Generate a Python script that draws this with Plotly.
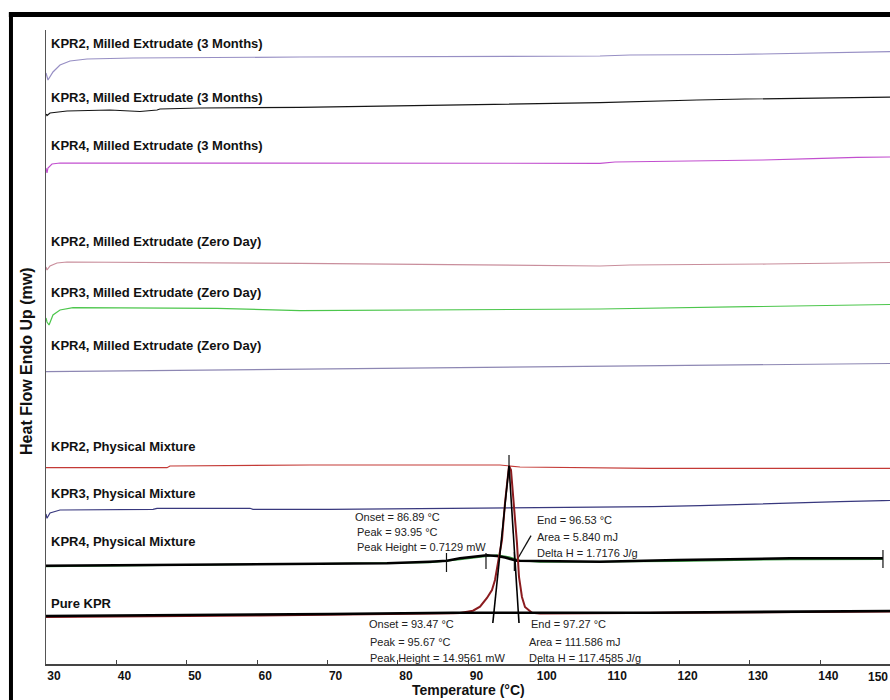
import plotly.graph_objects as go

# ---------------- data (temperature in °C, heat flow in stacked display units) ----------------
T_kpr2_3m = [30.00, 30.28, 30.99, 31.99, 33.41, 35.82, 42.36, 66.08, 108.69, 112.95, 127.59, 138.10, 147.05, 149.89]
HF_kpr2_3m = [591, 584, 592, 599, 603, 605, 606, 607, 608, 609, 609.5, 610.7, 611.7, 612.3]

T_kpr3_3m = [30.00, 30.14, 30.57, 31.56, 32.98, 39.09, 41.51, 43.35, 45.77, 46.19, 51.88, 66.08, 108.69, 116.08, 122.47, 129.29, 136.68, 143.21, 149.89]
HF_kpr3_3m = [550, 548.5, 551, 552, 553, 554, 553, 552.5, 554, 555, 556, 556.7, 561.3, 563, 564, 565, 565.7, 566.7, 566.9]

T_kpr4_3m = [30.00, 30.14, 30.28, 30.85, 31.99, 66.08, 108.69, 110.82, 123.89, 131.85, 138.95, 145.20, 149.89]
HF_kpr4_3m = [496, 491, 496, 500, 501, 500.7, 500.7, 502, 503, 504, 505.3, 506.7, 507]

T_kpr2_0d = [30.00, 30.14, 30.57, 31.56, 32.98, 66.08, 108.69, 112.95, 132.41, 143.07, 149.89]
HF_kpr2_0d = [397, 394, 398, 401, 402, 400.7, 398, 399, 400, 401, 401.5]

T_kpr3_0d = [30.00, 30.14, 30.43, 30.99, 31.99, 33.84, 54.29, 66.08, 108.69, 116.08, 127.59, 137.10, 144.49, 149.89]
HF_kpr3_0d = [346, 342, 339, 349, 354, 356.3, 355.7, 353.3, 355, 355.7, 356.7, 357.7, 359, 359.5]

T_kpr4_0d = [30.00, 66.08, 108.69, 125.03, 138.95, 149.89]
HF_kpr4_0d = [292.3, 294.7, 298, 299, 300, 300.5]

T_kpr2_pm = [30.00, 47.19, 47.61, 67.50, 94.49, 97.33, 115.80, 149.89]
HF_kpr2_pm = [196.3, 196.3, 198, 199, 199, 197, 195.7, 195.7]

T_kpr3_pm = [30.00, 30.14, 30.57, 31.99, 45.20, 45.77, 58.98, 59.40, 70.34, 108.69, 116.22, 122.90, 128.86, 134.26, 142.78, 148.89, 149.89]
HF_kpr3_pm = [150, 145.7, 151, 154, 154.7, 155.7, 155.7, 154.7, 154.7, 156.7, 157.3, 158.3, 159.7, 161, 162.3, 163.3, 163.5]

# KPR4 physical mixture: analysed curve (black) and raw curve (green)
T_kpr4_pm = [30.00, 41.51, 57.27, 70.34, 78.44, 84.55, 86.96, 88.81, 90.65, 92.64, 94.06, 95.20, 96.90, 108.69, 119.63, 130.00, 135.68, 148.89]
HF_kpr4_pm = [98.3, 99, 100, 100.7, 100.7, 102.3, 103.3, 105.7, 107.3, 108.7, 108, 106.5, 103.3, 102.3, 104, 104.7, 105.7, 105.7]
T_kpr4_pm_raw = [30.00, 41.51, 57.27, 70.34, 84.55, 88.81, 92.64, 94.06, 95.77, 97.33, 100.17, 119.63, 135.68, 148.89]
HF_kpr4_pm_raw = [97.5, 98.3, 99.2, 99.8, 101.5, 104.5, 108, 109, 107, 103.5, 102, 102.8, 104.5, 104.7]

# Pure KPR: baseline (black) and raw melting curve (dark red)
T_pure_base = [30.00, 60.40, 70.34, 87.81, 115.80, 149.89]
HF_pure_base = [48, 49, 50, 51.3, 51.3, 53]
T_pure_raw = [30.00, 60.40, 87.81, 88.81, 90.65, 91.65, 92.64, 93.35, 93.78, 94.20, 94.77, 95.20, 95.63, 95.77,
              96.05, 96.48, 96.90, 97.19, 97.61, 98.04, 99.03, 100.17, 149.89]
HF_pure_raw = [47, 48.5, 50.7, 51, 53.3, 57.3, 66, 74, 84, 101, 124, 161, 194, 198,
               194, 161, 121, 87, 67, 57, 51.3, 50.5, 52.5]

# thermal analysis results
pm4_onset, pm4_peak, pm4_height, pm4_end, pm4_area, pm4_dh = 86.89, 93.95, 0.7129, 96.53, 5.840, 1.7176
pure_onset, pure_peak, pure_height, pure_end, pure_area, pure_dh = 93.47, 95.67, 14.9561, 97.27, 111.586, 117.4585
pm4_mid_marker = 92.50
pm4_limit_marker = 148.89

x_ticks = [30, 40, 50, 60, 70, 80, 90, 100, 110, 120, 130, 140]

curve_labels = [
    "KPR2, Milled Extrudate (3 Months)", "KPR3, Milled Extrudate (3 Months)", "KPR4, Milled Extrudate (3 Months)",
    "KPR2, Milled Extrudate (Zero Day)", "KPR3, Milled Extrudate (Zero Day)", "KPR4, Milled Extrudate (Zero Day)",
    "KPR2, Physical Mixture", "KPR3, Physical Mixture", "KPR4, Physical Mixture", "Pure KPR",
]
label_levels = [621, 567, 519, 423, 372, 319, 218, 171, 123, 61]

# ---------------- figure ----------------
SANS = "Liberation Sans, Arial, sans-serif"

fig = go.Figure()

def line(x, y, color, width=1.2):
    fig.add_trace(go.Scatter(x=x, y=y, mode="lines", line=dict(color=color, width=width),
                             hoverinfo="skip", showlegend=False))

line(T_kpr2_3m, HF_kpr2_3m, "#978fc4")
line(T_kpr3_3m, HF_kpr3_3m, "#151515")
line(T_kpr4_3m, HF_kpr4_3m, "#c24fcf")
line(T_kpr2_0d, HF_kpr2_0d, "#c98e9c")
line(T_kpr3_0d, HF_kpr3_0d, "#4cc64c")
line(T_kpr4_0d, HF_kpr4_0d, "#8d87b3")
line(T_kpr2_pm, HF_kpr2_pm, "#c43a36")
line(T_kpr3_pm, HF_kpr3_pm, "#38387e")

# KPR4 physical mixture
line(T_kpr4_pm_raw, HF_kpr4_pm_raw, "#3d9b45", 1.4)
line(T_kpr4_pm, HF_kpr4_pm, "#000000", 2.6)
for xm, y0, y1 in [(pm4_onset, 92, 111), (pm4_mid_marker, 95, 111), (pm4_end, 93, 112), (pm4_limit_marker, 96, 114)]:
    line([xm, xm], [y0, y1], "#111111", 1.2)
line([96.90, 98.90], [104, 128.3], "#111111", 1.3)

# Pure KPR
line(T_pure_raw, HF_pure_raw, "#8b1c1f", 2.0)
line(T_pure_base, HF_pure_base, "#000000", 2.6)
line([pure_onset, 95.77], [41, 198], "#000000", 1.6)
line([pure_end - 0.08, 95.77], [41, 198], "#000000", 1.6)
line([95.77, 95.77], [198, 209], "#111111", 1.2)

annotations = []
for lab, lev in zip(curve_labels, label_levels):
    annotations.append(dict(x=30.45, y=lev, xref="x", yref="y", text=lab, showarrow=False,
                            xanchor="left", yanchor="middle",
                            font=dict(family=SANS, size=13, color="#111111", weight="bold")))

small = dict(family=SANS, size=11, color="#222222")
def txt(x, y, s):
    annotations.append(dict(x=x, y=y, xref="x", yref="y", text=s, showarrow=False,
                            xanchor="left", yanchor="middle", font=small))

txt(73.60, 147, f"Onset = {pm4_onset:.2f} °C")
txt(73.85, 132, f"Peak = {pm4_peak:.2f} °C")
txt(73.85, 117, f"Peak Height = {pm4_height:.4f} mW")
txt(99.40, 144, f"End = {pm4_end:.2f} °C")
txt(99.40, 127, f"Area = {pm4_area:.3f} mJ")
txt(99.40, 111, f"Delta H = {pm4_dh:.4f} J/g")
txt(75.55, 40, f"Onset = {pure_onset:.2f} °C")
txt(75.70, 22, f"Peak = {pure_peak:.2f} °C")
txt(75.70, 6, f"Peak Height = {pure_height:.4f} mW")
txt(98.55, 40, f"End = {pure_end:.2f} °C")
txt(98.30, 22, f"Area = {pure_area:.3f} mJ")
txt(98.30, 6, f"Delta H = {pure_dh:.4f} J/g")

# axis titles and last tick label
annotations.append(dict(x=0.5, y=-0.041, xref="paper", yref="paper", text="Temperature (°C)",
                        showarrow=False, xanchor="center", yanchor="middle",
                        font=dict(family=SANS, size=14, color="#111111", weight="bold")))
annotations.append(dict(x=-0.0225, y=0.478, xref="paper", yref="paper", text="Heat Flow Endo Up (mw)",
                        showarrow=False, xanchor="center", yanchor="middle", textangle=-90,
                        font=dict(family=SANS, size=16, color="#111111", weight="bold")))
annotations.append(dict(x=0.9995, y=-0.0205, xref="paper", yref="paper", text="150",
                        showarrow=False, xanchor="right", yanchor="middle",
                        font=dict(family=SANS, size=12, color="#111111", weight="bold")))

shapes = [
    dict(type="line", xref="paper", yref="paper", x0=-0.044, x1=1.02, y0=1.0245, y1=1.0245,
         line=dict(color="#000000", width=5)),
    dict(type="line", xref="paper", yref="paper", x0=-0.0415, x1=-0.0415, y0=1.028, y1=-0.06,
         line=dict(color="#000000", width=4)),
]

fig.update_layout(
    width=890, height=700,
    margin=dict(l=46, r=0, t=30, b=36),
    paper_bgcolor="white", plot_bgcolor="white",
    showlegend=False, hovermode=False,
    annotations=annotations, shapes=shapes,
    xaxis=dict(range=[30, 149.89], tickvals=x_ticks, ticktext=[str(v) for v in x_ticks],
               showline=True, linecolor="#444444", linewidth=1.5,
               ticks="inside", ticklen=4, tickcolor="#444444", tickwidth=1.2,
               ticklabelshift=8,
               tickfont=dict(family=SANS, size=12, color="#111111", weight="bold"),
               showgrid=False, zeroline=False, fixedrange=True),
    yaxis=dict(range=[0, 634], showline=True, linecolor="#555555", linewidth=1,
               showticklabels=False, ticks="", showgrid=False, zeroline=False, fixedrange=True),
)

fig.write_html("out.html")
